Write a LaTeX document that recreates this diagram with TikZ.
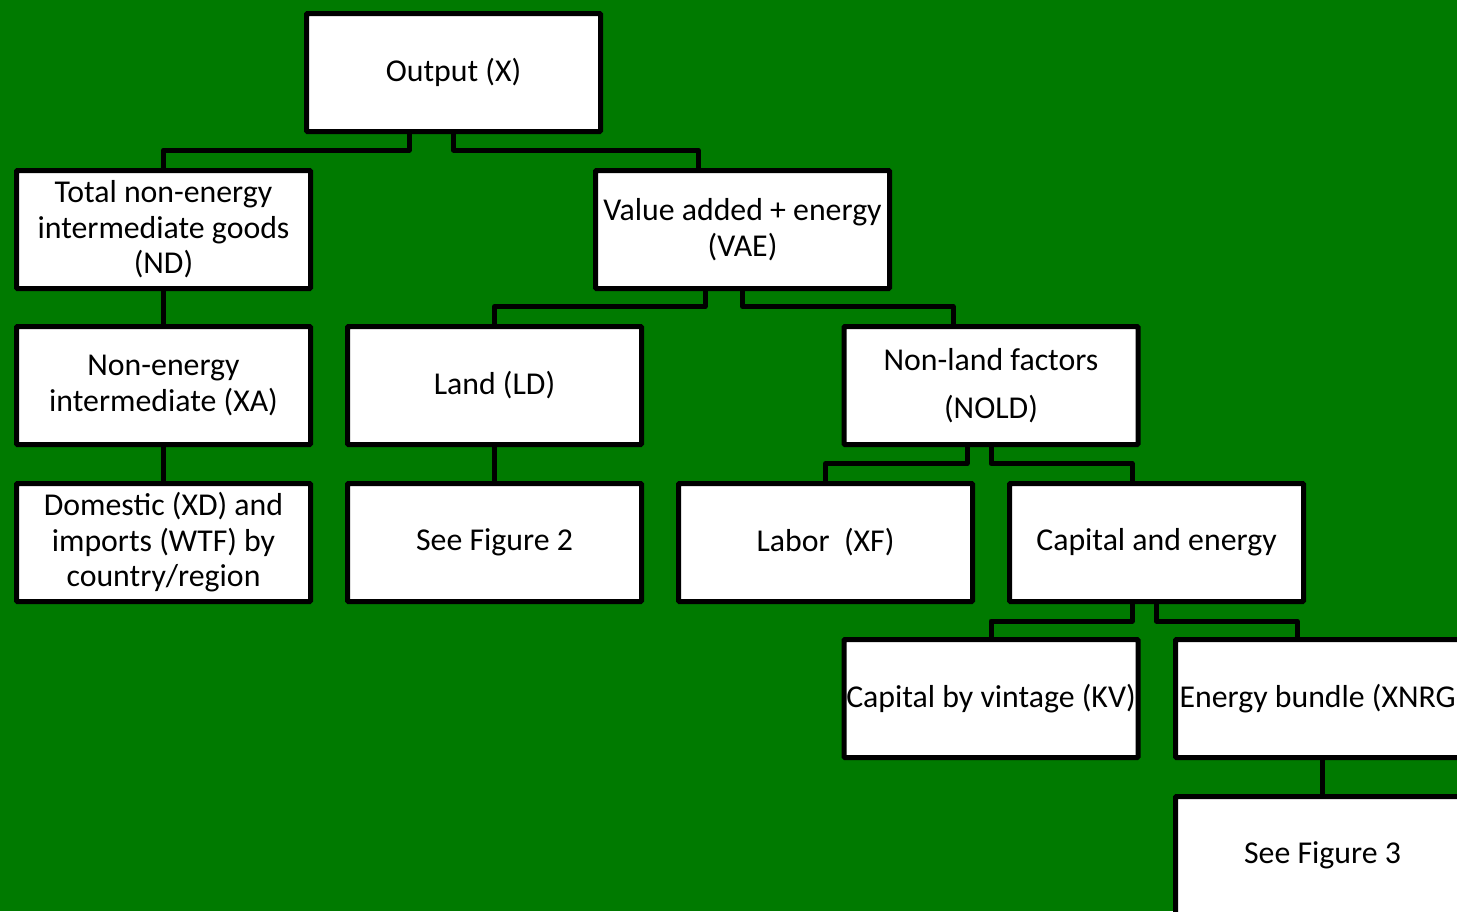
\documentclass[tikz,border=0pt]{standalone}
\usepackage{fontspec}
\setmainfont{Carlito}
\usetikzlibrary{calc}
\definecolor{bggreen}{RGB}{0,122,0}
\begin{document}
\begin{tikzpicture}[x=1pt,y=-1pt,
  box/.style={draw=black, fill=white, line width=5pt, minimum width=294pt, minimum height=118pt,
    inner sep=0pt, align=center, font=\fontsize{31.8}{35.5}\selectfont, rounded corners=1pt},
  conn/.style={draw=black, line width=5pt, line join=round}]
\fill[bggreen] (0,0) rectangle (1457,911);
\useasboundingbox (0,0) rectangle (1457,911);
\clip (0,0) rectangle (1457,911);

\node[box] (Output) at (453.5,72.5) {Output (X)};
\node[box] (ND) at (163.5,229.5) {Total non-energy\\intermediate goods\\(ND)};
\node[box] (VAE) at (742.5,229.5) {Value added + energy\\(VAE)};
\node[box] (XA) at (163.5,385.5) {Non-energy\\intermediate (XA)};
\node[box] (Land) at (494.5,385.5) {Land (LD)};
\node[box] (NOLD) at (991,385.5) {Non-land factors\\[12.5pt](NOLD)};
\node[box] (Dom) at (163.5,542.5) {Domestic (XD) and\\imports (WTF) by\\country/region};
\node[box] (Fig2) at (494.5,542.5) {See Figure 2};
\node[box] (Labor) at (825.5,542.5) {Labor\ \ (XF)};
\node[box] (CapE) at (1156.5,542.5) {Capital and energy};
\node[box] (KV) at (991,698.5) {Capital by vintage (KV)};
\node[box] (XNRG) at (1322.5,698.5) {Energy bundle (XNRG)};
\node[box] (Fig3) at (1322.5,855.5) {See Figure 3};

\draw[conn] ($(Output.south)+(-44.5,0)$) -- ++(0,16) -| (ND.north);
\draw[conn] (Output.south) -- ++(0,16) -| ($(VAE.north)+(-44.5,0)$);
\draw[conn] ($(VAE.south)+(-37.5,0)$) -- ++(0,15.5) -| (Land.north);
\draw[conn] (VAE.south) -- ++(0,15.5) -| ($(NOLD.north)+(-38,0)$);
\draw[conn] ($(NOLD.south)+(-24,0)$) -- ++(0,16.5) -| (Labor.north);
\draw[conn] (NOLD.south) -- ++(0,16.5) -| ($(CapE.north)+(-24.5,0)$);
\draw[conn] ($(CapE.south)+(-24.5,0)$) -- ++(0,17) -| (KV.north);
\draw[conn] (CapE.south) -- ++(0,17) -| ($(XNRG.north)+(-25.5,0)$);
\draw[conn] (ND.south) -- (XA.north);
\draw[conn] (XA.south) -- (Dom.north);
\draw[conn] (Land.south) -- (Fig2.north);
\draw[conn] (XNRG.south) -- (Fig3.north);
\end{tikzpicture}
\end{document}
